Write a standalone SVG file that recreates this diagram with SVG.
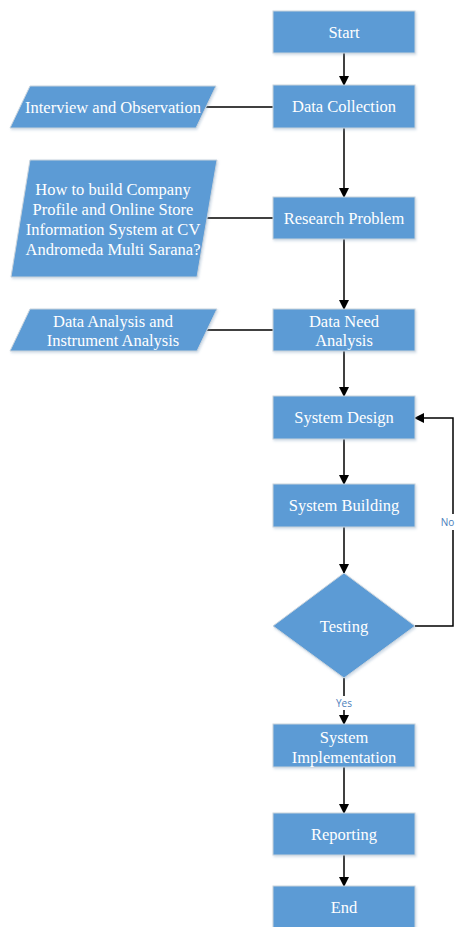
<svg xmlns="http://www.w3.org/2000/svg" width="455" height="927" viewBox="0 0 455 927">
<style>
.n{fill:#5b9bd5;stroke:#c9d3dc;stroke-width:1;filter:url(#sh)}
.t{font-family:"Liberation Serif","Times New Roman",serif;font-size:16.5px;fill:#ffffff;text-anchor:middle;dominant-baseline:central}
.c{stroke:#000;stroke-width:1.5;fill:none}
.a{stroke:#000;stroke-width:1.5;fill:none;marker-end:url(#ar)}
.l{font-family:"Open Sans","Liberation Sans",sans-serif;font-size:10px;fill:#4a7ebb;text-anchor:middle;dominant-baseline:central}
</style>
<defs>
<marker id="ar" markerWidth="10" markerHeight="10" refX="9" refY="5" orient="auto" markerUnits="userSpaceOnUse">
<path d="M0,0 L10,5 L0,10 Z" fill="#000"/>
</marker>
<filter id="sh" x="-10%" y="-10%" width="130%" height="130%">
<feDropShadow dx="1" dy="1.5" stdDeviation="1" flood-color="#7f9fc0" flood-opacity="0.35"/>
</filter>
</defs>
<rect width="455" height="927" fill="#fff"/>
<g id="connectors">
<path class="a" d="M344,53 V85"/>
<path class="c" d="M206,107 H273"/>
<path class="a" d="M344,128 V197"/>
<path class="c" d="M207,218 H273"/>
<path class="a" d="M344,239 V309"/>
<path class="c" d="M206,330 H273"/>
<path class="a" d="M344,351 V396"/>
<path class="a" d="M344,439 V484"/>
<path class="a" d="M344,527 V573"/>
<path class="a" d="M415,626 H453 V418 H415"/>
<rect x="441" y="514" width="14" height="16" fill="#fff"/>
<text class="l" x="447.5" y="522">No</text>
<path class="c" d="M344,678 V696"/>
<path class="a" d="M344,710 V724"/>
<text class="l" x="344" y="703">Yes</text>
<path class="a" d="M344,767 V813"/>
<path class="a" d="M344,855 V886"/>
</g>
<g id="start"><rect class="n" x="273" y="11" width="142" height="42"/><text class="t" x="344" y="32">Start</text></g>
<g id="data-collection"><rect class="n" x="273" y="85" width="142" height="43"/><text class="t" x="344" y="106.5">Data Collection</text></g>
<g id="interview"><polygon class="n" points="30,86 216,86 196,128 10,128"/><text class="t" x="113" y="107">Interview and Observation</text></g>
<g id="research-problem"><rect class="n" x="273" y="197" width="142" height="42"/><text class="t" x="344" y="218">Research Problem</text></g>
<g id="question"><polygon class="n" points="30,160 217,160 197,277 11,277"/><text class="t" x="113" y="189">How to build Company</text><text class="t" x="113" y="209">Profile and Online Store</text><text class="t" x="113" y="229">Information System at CV</text><text class="t" x="113" y="249">Andromeda Multi Sarana?</text></g>
<g id="data-need"><rect class="n" x="273" y="309" width="142" height="42"/><text class="t" x="344" y="321">Data Need</text><text class="t" x="344" y="340">Analysis</text></g>
<g id="data-analysis"><polygon class="n" points="30,309 217,309 197,351 10,351"/><text class="t" x="113" y="321">Data Analysis and</text><text class="t" x="113" y="340">Instrument Analysis</text></g>
<g id="system-design"><rect class="n" x="273" y="396" width="142" height="43"/><text class="t" x="344" y="417.5">System Design</text></g>
<g id="system-building"><rect class="n" x="273" y="484" width="142" height="43"/><text class="t" x="344" y="505.5">System Building</text></g>
<g id="testing"><polygon class="n" points="344,573 415,626 344,678 273,626"/><text class="t" x="344" y="626">Testing</text></g>
<g id="implementation"><rect class="n" x="273" y="724" width="142" height="43"/><text class="t" x="344" y="737">System</text><text class="t" x="344" y="757">Implementation</text></g>
<g id="reporting"><rect class="n" x="273" y="813" width="142" height="42"/><text class="t" x="344" y="834">Reporting</text></g>
<g id="end"><rect class="n" x="273" y="886" width="142" height="42"/><text class="t" x="344" y="907">End</text></g>
</svg>
